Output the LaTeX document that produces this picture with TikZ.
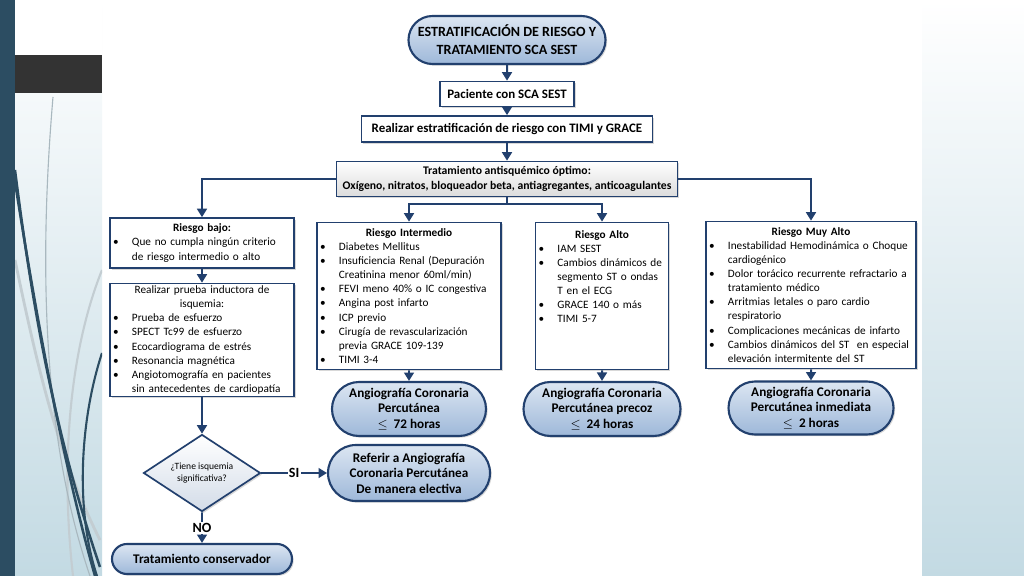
\documentclass[tikz,border=0pt]{standalone}
\usepackage{fontspec}
\setmainfont{Carlito}
\usetikzlibrary{arrows.meta, shapes.geometric, shapes.misc, shadows}
\definecolor{flowblue}{HTML}{22406E}
\definecolor{pilltop}{HTML}{DCE6F2}
\definecolor{pillbot}{HTML}{9EB8D9}
\definecolor{boxgray}{HTML}{DCDCDC}
\definecolor{diamgray}{HTML}{D3DCE8}
\definecolor{stripblue}{HTML}{2C4D62}
\definecolor{bargray}{HTML}{333333}
\definecolor{panelblue}{HTML}{C3DAE3}
\definecolor{curvegray}{HTML}{A9B8BF}
\newdimen\pxu \pxu=0.025cm
\newcommand{\bul}[1]{\par\noindent\hangindent=13.5pt\hangafter=1\makebox[13.5pt][l]{\textbullet}#1\par}
\newcommand{\boxhead}[1]{{\centering\bfseries #1\par}}

\begin{document}
\begin{tikzpicture}[x=0.025cm, y=-0.025cm,
  every node/.style={font=\fontsize{8}{10}\selectfont},
  box/.style={draw=flowblue, line width=1.2pt, fill=white, inner xsep=3\pxu, inner ysep=2\pxu, align=left,
    drop shadow={opacity=0.3, shadow xshift=1.2pt, shadow yshift=-1.2pt}},
  pill/.style={rounded rectangle, draw=flowblue, line width=1.5pt, top color=pilltop, bottom color=pillbot,
    align=center, inner xsep=0pt, inner ysep=1.2pt, font=\bfseries\fontsize{9.4}{11}\selectfont,
    drop shadow={opacity=0.3, shadow xshift=1.2pt, shadow yshift=-1.2pt}},
  flowline/.style={flowblue, line width=1.4pt},
  conn/.style={flowline, -{Triangle[width=7pt,length=6pt]}},
  lbl/.style={fill=white, inner sep=1pt, font=\bfseries\fontsize{10}{12}\selectfont, text=black}]
  \useasboundingbox (0,0) rectangle (1024,576);
  % fondo de la diapositiva
  \fill[white] (0,0) rectangle (1024,576);
  \shade[top color=white, bottom color=panelblue] (15,0) rectangle (102,576);
  \shade[top color=white, bottom color=panelblue] (922,0) rectangle (1024,576);
  \fill[white] (15,0) rectangle (102,55);
  \fill[stripblue] (0,0) rectangle (15,576);
  \fill[bargray] (15,55) rectangle (102,93);
  \begin{scope}
    \clip (15,93) rectangle (102,576);
    \draw[curvegray!70, line width=2pt] (15,260) .. controls (40,380) and (60,460) .. (100,540);
    \draw[curvegray!70, line width=1.5pt] (102,270) .. controls (70,350) and (60,460) .. (73,576);
    \draw[curvegray, line width=0.8pt] (53,97) .. controls (40,250) and (40,430) .. (90,576);
    \draw[stripblue, line width=1.8pt] (15,170) .. controls (35,330) and (60,450) .. (100,567);
    \draw[stripblue, line width=1.8pt] (15,182) .. controls (40,340) and (65,470) .. (95,576);
    \draw[stripblue, line width=1.5pt] (102,353) .. controls (80,420) and (75,510) .. (97,576);
  \end{scope}

  % nodos
  \node[pill, minimum width=197\pxu, minimum height=48\pxu, font=\bfseries\fontsize{10}{13}\selectfont] (title) at (507,40) {ESTRATIFICACIÓN DE RIESGO Y\\TRATAMIENTO SCA SEST};
  \node[box, minimum width=134\pxu, minimum height=25\pxu, align=center, font=\bfseries\fontsize{9.2}{11}\selectfont] (paciente) at (507,94) {Paciente con SCA SEST};
  \node[box, minimum width=291\pxu, minimum height=26\pxu, align=center, font=\bfseries\fontsize{9.2}{11}\selectfont] (estrat) at (507,129) {Realizar estratificación de riesgo con TIMI y GRACE};
  \node[box, minimum width=341\pxu, minimum height=35\pxu, inner ysep=1pt, align=center, top color=white, bottom color=boxgray, font=\bfseries\fontsize{8.3}{10.5}\selectfont] (tratam) at (507,179) {Tratamiento antisquémico óptimo:\\Oxígeno, nitratos, bloqueador beta, antiagregantes, anticoagulantes};

  \node[box, text width=178\pxu, minimum height=50\pxu] (bajo) at (202,243) {\boxhead{Riesgo bajo:}\bul{Que no cumpla ningún criterio\newline de riesgo intermedio o alto}};
  \node[box, text width=178\pxu, minimum height=113\pxu] (prueba) at (202,340) {{\centering Realizar prueba inductora de\\isquemia:\par}\bul{Prueba de esfuerzo}\bul{SPECT Tc99 de esfuerzo}\bul{Ecocardiograma de estrés}\bul{Resonancia magnética}\bul{Angiotomografía en pacientes\newline sin antecedentes de cardiopatía}};
  \node[diamond, draw=flowblue, line width=1.2pt, top color=white, bottom color=diamgray, aspect=1.5, minimum width=117\pxu, minimum height=77\pxu, inner sep=0pt, align=center, font=\fontsize{6.8}{9}\selectfont, drop shadow={opacity=0.3, shadow xshift=1.2pt, shadow yshift=-1.2pt}] (isq) at (202,473) {¿Tiene isquemia\\significativa?};
  \node[pill, minimum width=162\pxu, minimum height=56\pxu] (referir) at (409,473) {Referir a Angiografía\\Coronaria Percutánea\\De manera electiva};
  \node[pill, minimum width=180\pxu, minimum height=30\pxu] (conserv) at (202,559) {Tratamiento conservador};

  \node[box, text width=178\pxu, minimum height=147\pxu] (inter) at (409,296) {\boxhead{Riesgo Intermedio}\bul{Diabetes Mellitus}\bul{Insuficiencia Renal (Depuración\newline Creatinina menor 60ml/min)}\bul{FEVI meno 40\% o IC congestiva}\bul{Angina post infarto}\bul{ICP previo}\bul{Cirugía de revascularización\newline previa GRACE 109-139}\bul{TIMI 3-4}};
  \node[box, text width=127\pxu, minimum height=147\pxu] (alto) at (602,296) {\boxhead{Riesgo Alto}\bul{IAM SEST}\bul{Cambios dinámicos de\newline segmento ST o ondas\newline T en el ECG}\bul{GRACE 140 o más}\bul{TIMI 5-7}\noindent\rule{0pt}{38\pxu}\par};
  \node[box, text width=204\pxu, minimum height=147\pxu] (muyalto) at (811,295) {\boxhead{Riesgo Muy Alto}\bul{Inestabilidad Hemodinámica o Choque\newline cardiogénico}\bul{Dolor torácico recurrente refractario a\newline tratamiento médico}\bul{Arritmias letales o paro cardio\newline respiratorio}\bul{Complicaciones mecánicas de infarto}\bul{Cambios dinámicos del ST\ \ en especial\newline elevación intermitente del ST}};

  \node[pill, minimum width=154\pxu, minimum height=54\pxu] (acp72) at (409,409) {Angiografía Coronaria\\Percutánea\\$\leq$\ \ 72 horas};
  \node[pill, minimum width=157\pxu, minimum height=54\pxu] (acp24) at (602,409) {Angiografía Coronaria\\Percutánea precoz\\$\leq$\ \ 24 horas};
  \node[pill, minimum width=165\pxu, minimum height=53\pxu] (acp2) at (811,408) {Angiografía Coronaria\\Percutánea inmediata\\$\leq$\ \ 2 horas};

  % conectores
  \draw[conn] (title) -- (paciente);
  \draw[conn] (paciente) -- (estrat);
  \draw[conn] (estrat) -- (tratam);
  \draw[conn] (tratam.west) -| (bajo.north);
  \draw[conn] (tratam.east) -| (muyalto.north);
  \coordinate (split) at (507,204);
  \draw[flowline] (tratam.south) -- (split);
  \draw[conn] (split) -| (inter.north);
  \draw[conn] (split) -| (alto.north);
  \draw[conn] (bajo) -- (prueba);
  \draw[conn] (prueba) -- (isq);
  \draw[conn] (isq) -- node[lbl]{SI} (referir);
  \draw[conn] (isq) -- node[lbl]{NO} (conserv);
  \draw[conn] (inter) -- (acp72);
  \draw[conn] (alto) -- (acp24);
  \draw[conn] (muyalto) -- (acp2);
\end{tikzpicture}
\end{document}
